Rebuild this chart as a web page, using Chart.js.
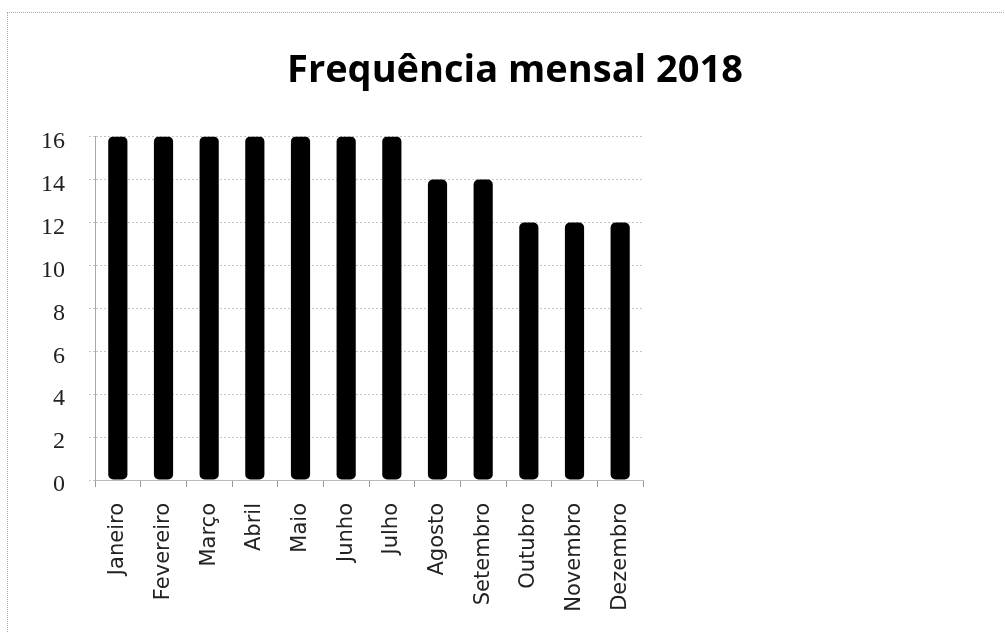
<!DOCTYPE html>
<html>
<head>
<meta charset="utf-8">
<script src="https://cdn.jsdelivr.net/npm/chart.js@4/dist/chart.umd.min.js"></script>
<style>
  html, body { margin: 0; padding: 0; background: #fff; }
  #wrap { position: relative; width: 1005px; height: 633px; }
  #frame {
    position: absolute; left: 7px; top: 12px; width: 998px; height: 621px;
    border-top: 1px dotted #aaa; border-left: 1px dotted #aaa;
    pointer-events: none;
  }
</style>
</head>
<body>
<div id="wrap">
  <canvas id="freqChart" width="1005" height="633"></canvas>
  <div id="frame"></div>
</div>
<script>
// Frequência mensal 2018
const months = ['Janeiro', 'Fevereiro', 'Março', 'Abril', 'Maio', 'Junho',
                'Julho', 'Agosto', 'Setembro', 'Outubro', 'Novembro', 'Dezembro'];
const frequency = [16, 16, 16, 16, 16, 16, 16, 14, 14, 12, 12, 12];
const yTicks = [0, 2, 4, 6, 8, 10, 12, 14, 16];

// keep the title centred over the whole picture, not just the plot
const centreTitle = {
    id: 'centreTitle',
    afterLayout(chart) {
        if (chart.titleBlock) {
            chart.titleBlock.left = 30;
            chart.titleBlock.right = 1000;
            chart.titleBlock.width = 970;
        }
    }
};

const ctx = document.getElementById('freqChart').getContext('2d');
new Chart(ctx, {
    type: 'bar',
    data: {
        labels: months,
        datasets: [{
            label: 'Frequência',
            data: frequency,
            backgroundColor: '#000',
            borderRadius: 5,
            borderSkipped: false,
            barPercentage: 0.42,
            categoryPercentage: 1
        }]
    },
    options: {
        responsive: false,
        animation: false,
        layout: { padding: { left: 0, right: 362, top: 0, bottom: 0 } },
        plugins: {
            legend: { display: false },
            tooltip: { enabled: false },
            title: {
                display: true,
                text: 'Frequência mensal 2018',
                color: '#000',
                font: { family: 'Open Sans', size: 38, weight: 'bold', lineHeight: 1.2 },
                padding: { top: 48, bottom: 43 }
            }
        },
        scales: {
            x: {
                grid: {
                    display: true,
                    drawOnChartArea: false,
                    tickLength: 7,
                    color: '#999'
                },
                border: { display: true, color: '#bbb', dash: [2, 2] },
                ticks: {
                    color: '#222',
                    font: { family: 'DejaVu Sans', size: 21 },
                    minRotation: 90,
                    maxRotation: 90,
                    padding: 16
                },
                afterFit(scale) { scale.height = 153; }
            },
            y: {
                min: 0,
                max: 16,
                afterBuildTicks(scale) {
                    scale.ticks = yTicks.map(v => ({ value: v }));
                },
                grid: {
                    color: '#c4c4c4',
                    tickLength: 6,
                    tickBorderDash: [2, 2]
                },
                border: { display: true, color: '#aaa', dash: [2, 2] },
                ticks: {
                    color: '#222',
                    font: { family: 'Liberation Serif', size: 24 },
                    padding: 24,
                    labelOffset: 5
                },
                afterFit(scale) { scale.width = 95; }
            }
        }
    },
    plugins: [centreTitle]
});
</script>
</body>
</html>
